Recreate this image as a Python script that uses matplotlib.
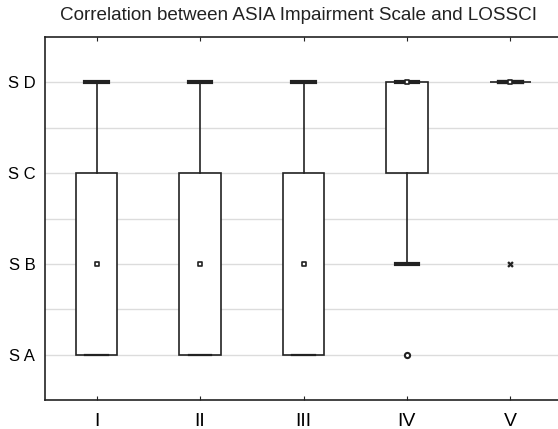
import matplotlib
matplotlib.use("Agg")
import matplotlib.pyplot as plt

plt.rcParams['font.family'] = ['Liberation Sans', 'DejaVu Sans']

groups = ["I", "II", "III", "IV", "V"]
level_labels = ["S A", "S B", "S C", "S D"]
level_values = [1, 2, 3, 4]

# five-number summaries (1 = S A ... 4 = S D)
medians = [2, 2, 2, 4, 4]
q1 = [1, 1, 1, 3, 4]
q3 = [3, 3, 3, 4, 4]
whisker_lo = [1, 1, 1, 2, 4]
whisker_hi = [4, 4, 4, 4, 4]
outliers = [[], [], [], [1], []]
extremes = [[], [], [], [], [2]]

fig = plt.figure(figsize=(5.58, 4.29), dpi=100)
ax = fig.add_axes([45 / 558, 29 / 429, 517 / 558, 363 / 429])

stats = []
for i, g in enumerate(groups):
    stats.append(dict(label=g, med=medians[i], q1=q1[i], q3=q3[i],
                      whislo=whisker_lo[i], whishi=whisker_hi[i], fliers=[]))

positions = list(range(1, len(groups) + 1))
line_col = "#222222"
parts = ax.bxp(stats, positions=positions, widths=0.4, capwidths=0.22,
               patch_artist=True, showfliers=False,
               boxprops=dict(facecolor="white", edgecolor=line_col, linewidth=1.2),
               whiskerprops=dict(color=line_col, linewidth=1.2),
               capprops=dict(color=line_col, linewidth=3),
               medianprops=dict(linewidth=0),
               zorder=3)

# lower caps that sit on the box edge are mostly hidden by it
for i in range(len(groups)):
    if whisker_lo[i] == q1[i] and q1[i] != q3[i]:
        parts["caps"][2 * i].set_linewidth(1.6)

ax.scatter(positions, medians, marker="s", s=10, facecolor="white",
           edgecolor=line_col, linewidths=1.2, zorder=5)

for i, vals in enumerate(outliers):
    if vals:
        ax.scatter([positions[i]] * len(vals), vals, marker="o", s=14,
                   facecolor="white", edgecolor=line_col, linewidths=1.5, zorder=5)
for i, vals in enumerate(extremes):
    if vals:
        ax.scatter([positions[i]] * len(vals), vals, marker="X", s=22,
                   color=line_col, linewidths=0, zorder=5)

ax.set_xlim(0.5, 5.5)
ax.set_ylim(0.5, 4.5)
ax.set_xticks(positions)
ax.set_xticklabels(groups, fontsize=14)
ax.set_yticks(level_values)
ax.set_yticklabels(level_labels, fontsize=12)
ax.set_yticks([1.5, 2.5, 3.5], minor=True)
ax.grid(True, axis="y", which="both", color="#dcdcdc", linewidth=1, zorder=0)
ax.set_axisbelow(True)

ax.tick_params(axis="x", direction="in", length=3, top=True, pad=9.5,
               color=line_col)
ax.tick_params(axis="y", which="both", length=0, pad=7)
for sp in ax.spines.values():
    sp.set_color(line_col)
    sp.set_linewidth(1.2)

fig.text(299 / 558, 1 - 15 / 429,
         "Correlation between ASIA Impairment Scale and LOSSCI",
         ha="center", va="center", fontsize=13.6, color="#222222")

fig.savefig("out.png", dpi=100)
